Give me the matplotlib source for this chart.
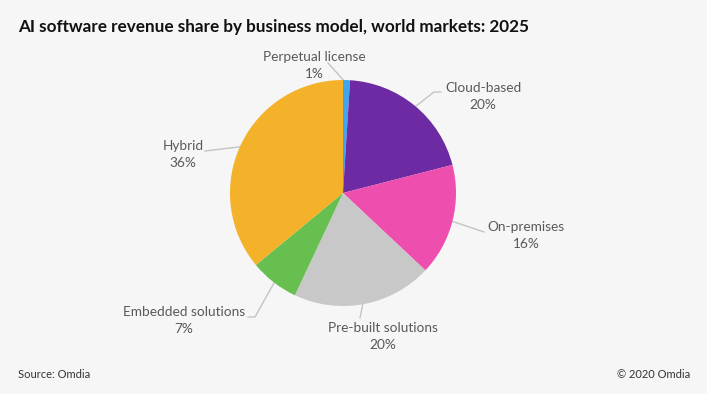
import numpy as np
import matplotlib
matplotlib.use("Agg")
import matplotlib.pyplot as plt

# datos
categorias = ["Perpetual license", "Cloud-based", "On-premises",
              "Pre-built solutions", "Embedded solutions", "Hybrid"]
valores = [1, 20, 16, 20, 7, 36]
colores = ["#41a5ee", "#6e2aa3", "#ee4fae", "#c8c8c8", "#66bf4e", "#f4b12a"]

plt.rcParams['font.family'] = ['Lato', 'DejaVu Sans']

W, H = 707, 394
fig = plt.figure(figsize=(W / 100, H / 100), dpi=100, facecolor="#f6f6f6")
ax = fig.add_axes([0, 0, 1, 1])

def Y(y):
    # coordenadas en pixeles desde arriba
    return H - y

cx, cy, r = 343, 193, 113
wedges, _ = ax.pie(valores, colors=colores, startangle=90, counterclock=False,
                   center=(cx, Y(cy)), radius=r, frame=True,
                   wedgeprops=dict(linewidth=0))
ax.set_xlim(0, W)
ax.set_ylim(0, H)
ax.set_aspect("equal")
ax.axis("off")

# posicion de etiquetas (texto) y codo de la linea guia
etiquetas = {
    "Perpetual license":   ((314, 57), [(328, 63)]),
    "Cloud-based":         ((483, 88), [(441, 92), (434, 92)]),
    "On-premises":         ((526, 227), [(484, 232)]),
    "Pre-built solutions": ((383, 328), [(360, 318)]),
    "Embedded solutions":  ((184, 312), [(248, 317), (255, 317)]),
    "Hybrid":              ((183, 146), [(205, 151)]),
}

for w, cat, v in zip(wedges, categorias, valores):
    (tx, ty), codo = etiquetas[cat]
    ax.text(tx, Y(ty), cat, ha="center", va="center", fontsize=9.8, color="#595959")
    ax.text(tx, Y(ty + 17), f"{v}%", ha="center", va="center", fontsize=9.8, color="#595959")
    ang = np.deg2rad((w.theta1 + w.theta2) / 2)
    ex = cx + 0.97 * r * np.cos(ang)
    ey = Y(cy) + 0.97 * r * np.sin(ang)
    xs = [p[0] for p in codo] + [ex]
    ys = [Y(p[1]) for p in codo] + [ey]
    ax.plot(xs, ys, color="#c4c4c4", linewidth=1, zorder=0.5)

fig.text(18 / W, 1 - 27 / H, "AI software revenue share by business model, world markets: 2025",
         fontsize=12.3, fontweight="bold", color="#111111", va="center", ha="left")
fig.text(18 / W, 1 - 375 / H, "Source: Omdia", fontsize=8, color="#333333", va="center")
fig.text(690 / W, 1 - 375 / H, "\u00a9 2020 Omdia", fontsize=8, color="#333333",
         va="center", ha="right")

fig.savefig("out.png", dpi=100, facecolor=fig.get_facecolor())
